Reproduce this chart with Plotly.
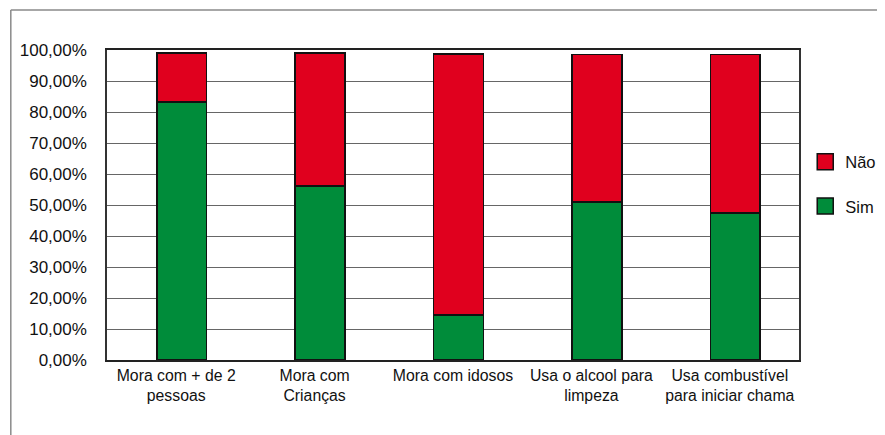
import plotly.graph_objects as go

categories = ["Mora com + de 2<br>pessoas", "Mora com<br>Crianças", "Mora com idosos",
              "Usa o alcool para<br>limpeza", "Usa combustível<br>para iniciar chama"]
sim_values = [83.3, 56.2, 14.5, 51.0, 47.4]
nao_values = [15.8, 42.9, 84.3, 47.6, 51.2]
y_tick_vals = [0, 10, 20, 30, 40, 50, 60, 70, 80, 90, 100]
y_tick_text = ["0,00%", "10,00%", "20,00%", "30,00%", "40,00%", "50,00%",
               "60,00%", "70,00%", "80,00%", "90,00%", "100,00%"]

FONT = "Liberation Sans, Arial, sans-serif"
GREEN = "#008C3A"
RED = "#E0001E"
EDGE = "#111111"

fig = go.Figure()
fig.add_trace(go.Bar(x=categories, y=sim_values, name="Sim", showlegend=False,
                     marker=dict(color=GREEN, line=dict(color=EDGE, width=1.6)),
                     width=0.36, offset=-0.14))
fig.add_trace(go.Bar(x=categories, y=nao_values, name="Não", showlegend=False,
                     marker=dict(color=RED, line=dict(color=EDGE, width=1.6)),
                     width=0.36, offset=-0.14))
# legend entries (square swatches like the original)
fig.add_trace(go.Scatter(x=[None], y=[None], name="Não", mode="markers", legendgroup="nao",
                         marker=dict(symbol="square", size=18, color=RED,
                                     line=dict(color=EDGE, width=1.5))))
fig.add_trace(go.Scatter(x=[None], y=[None], name="Sim", mode="markers", legendgroup="sim",
                         marker=dict(symbol="square", size=18, color=GREEN,
                                     line=dict(color=EDGE, width=1.5))))

fig.update_layout(
    width=885, height=435,
    barmode="stack",
    paper_bgcolor="white", plot_bgcolor="white",
    margin=dict(l=96, r=91, t=42, b=83),
    font=dict(family=FONT, color="#111111"),
    showlegend=True,
    legend=dict(x=1.009, y=0.568, xanchor="left", yanchor="middle",
                traceorder="grouped", tracegroupgap=20, itemsizing="trace",
                font=dict(size=16.5, family=FONT), bgcolor="rgba(0,0,0,0)"),
    xaxis=dict(showgrid=False, showline=True, linecolor="#222222", linewidth=1.5,
               mirror=True, ticks="", tickfont=dict(size=15.8, family=FONT),
               range=[-0.5, 4.5], fixedrange=True),
    yaxis=dict(range=[0, 100], tickvals=y_tick_vals, ticktext=y_tick_text,
               showgrid=True, gridcolor="#666666", gridwidth=1.4,
               showline=True, linecolor="#333333", linewidth=1.5, mirror=True,
               zeroline=False, ticks="", ticklabelstandoff=15,
               tickfont=dict(size=17, family=FONT)),
    shapes=[
        dict(type="line", xref="paper", yref="paper", x0=-0.139, x1=-0.139, y0=-0.4, y1=1.129,
             line=dict(color="#8a8a8a", width=1.5)),
        dict(type="line", xref="paper", yref="paper", x0=-0.139, x1=1.2, y0=1.129, y1=1.129,
             line=dict(color="#8a8a8a", width=1.5)),
    ],
)

fig.write_html("out.html")
